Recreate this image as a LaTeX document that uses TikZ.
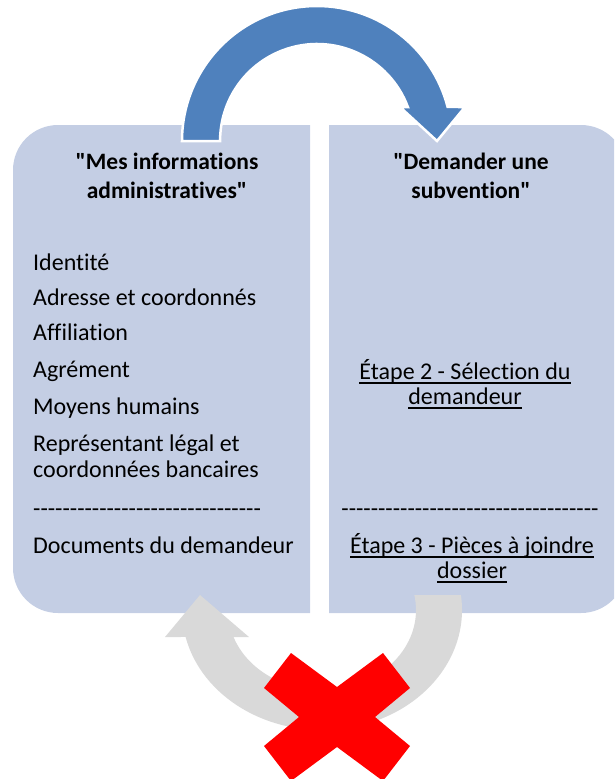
\documentclass[tikz,border=0pt]{standalone}
\usepackage{fontspec}
\setmainfont{Carlito}[Ligatures={TeXOff,NoCommon}]
\definecolor{boxfill}{RGB}{196,206,228}
\definecolor{bluearrow}{RGB}{79,129,189}
\definecolor{greyarrow}{RGB}{217,217,217}
\definecolor{redx}{RGB}{255,0,0}
\newcommand{\ulin}[1]{\setbox0\hbox{#1}\rlap{\vrule height -3.2pt depth 4.6pt width \wd0}\box0}
\begin{document}
\begin{tikzpicture}[x=1pt,y=-1pt,
  panel/.style={fill=boxfill},
  body/.style={font=\fontsize{24}{26}\selectfont, text=black, inner sep=0pt, anchor=base west},
  cbody/.style={font=\fontsize{24}{26}\selectfont, text=black, inner sep=0pt, anchor=base},
  head/.style={font=\fontsize{23.5}{28}\selectfont\bfseries, text=black, inner sep=0pt, anchor=base},
  bluearr/.style={fill=bluearrow, draw=white, line width=2.5pt, line join=miter},
  greyarr/.style={fill=greyarrow},
  cross/.style={fill=redx}
]
\useasboundingbox (0,0) rectangle (614,779);
\clip (0,0) rectangle (614,779);

% panels
\fill[panel] (310,125) -- (58,125) arc[start angle=270,end angle=180,radius=45]
  -- (13,568) arc[start angle=180,end angle=90,radius=45] -- (310,613) -- cycle;
\fill[panel] (329,125) -- (581,125) arc[start angle=270,end angle=360,radius=45]
  -- (626,568) arc[start angle=0,end angle=90,radius=45] -- (329,613) -- cycle;

% blue circular arrow (top)
\filldraw[bluearr] (182,141) arc[start angle=180,end angle=345.41,radius=135]
  -- (465,107) -- (437,141) -- (400,107) -- (407.9,107)
  arc[start angle=339.48,end angle=180,radius=97] -- cycle;

% grey circular arrow (bottom)
\fill[greyarr] (460.9,595) arc[start angle=-7.18,end angle=167.0,x radius=140,y radius=120]
  -- (165,637) -- (200,595) -- (249,637) -- (233.5,637)
  arc[start angle=160.28,end angle=-10.81,x radius=94,y radius=80] -- cycle;

% red cross
\fill[cross] (264,688) -- (291,653) -- (337,687) -- (383,653) -- (410,688) -- (375,717)
  -- (410,746) -- (383,781) -- (337,747) -- (291,781) -- (264,746) -- (299,717) -- cycle;

% headings
\node[head] (hl1) at (167,169) {"Mes informations};
\node[head] (hl2) at (167,198) {administratives"};
\node[head] (hr1) at (471,169) {"Demander une};
\node[head] (hr2) at (471,198) {subvention"};

% left list
\node[body] (l1) at (33,270) {Identité};
\node[body] (l2) at (33,305) {Adresse et coordonnés};
\node[body] (l3) at (33,340) {Affiliation};
\node[body] (l4) at (33,377) {Agrément};
\node[body] (l5) at (33,414) {Moyens humains};
\node[body] (l6) at (33,451) {Représentant légal et};
\node[body] (l7) at (33,477) {coordonnées bancaires};
\node[body] (l8) at (33,516) {-------------------------------};
\node[body] (l9) at (33,553) {Documents du demandeur};

% right list
\node[cbody] (r1) at (465,379) {\ulin{Étape 2 - Sélection du}};
\node[cbody] (r2) at (465,404) {\ulin{demandeur}};
\node[cbody] (r3) at (470,516) {-----------------------------------};
\node[cbody] (r4) at (472,553) {\ulin{Étape 3 - Pièces à joindre}};
\node[cbody] (r5) at (472,578) {\ulin{dossier}};
\end{tikzpicture}
\end{document}
